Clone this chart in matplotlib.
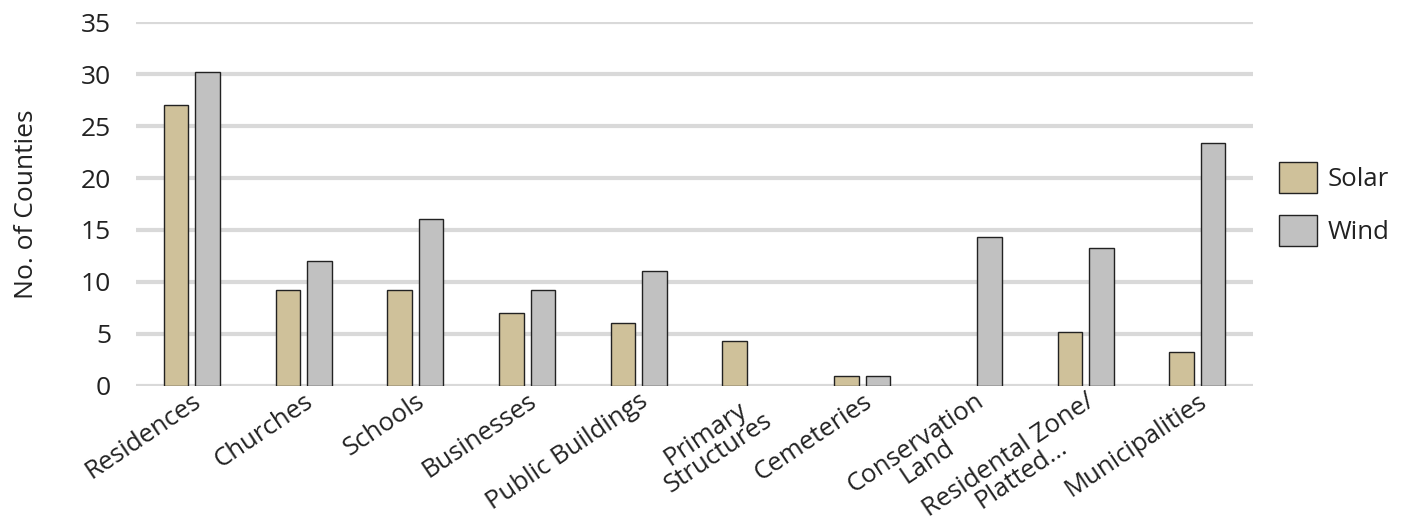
import matplotlib
matplotlib.use("Agg")
import matplotlib.pyplot as plt
import numpy as np

categories = ["Residences", "Churches", "Schools", "Businesses", "Public Buildings",
              "Primary\nStructures", "Cemeteries", "Conservation\nLand",
              "Residental Zone/\nPlatted...", "Municipalities"]
solar = [27.0, 9.2, 9.2, 7.0, 6.1, 4.3, 1.0, 0, 5.2, 3.3]
wind = [30.2, 12.0, 16.1, 9.2, 11.1, 0, 1.0, 14.3, 13.3, 23.4]

plt.rcParams['font.family'] = ['Open Sans', 'DejaVu Sans']
plt.rcParams['text.color'] = '#222222'

fig = plt.figure(figsize=(14.09, 5.27), dpi=100)
ax = fig.add_axes([0.0965, 0.2676, 0.793, 0.6906])

x = np.arange(len(categories))
w = 0.22
b1 = ax.bar(x - 0.141, solar, w, color='#cfc19a', edgecolor='#222222', linewidth=1, label='Solar', zorder=3)
b2 = ax.bar(x + 0.141, wind, w, color='#c1c1c1', edgecolor='#222222', linewidth=1, label='Wind', zorder=3)
# hide empty bars (no outline line at zero)
for p in list(b1) + list(b2):
    if p.get_height() == 0:
        p.set_visible(False)

ax.set_xlim(-0.5, len(categories) - 0.5)
ax.set_ylim(0, 35)
ax.set_yticks(range(0, 36, 5))
ax.yaxis.grid(True, color='#d9d9d9', linewidth=3, zorder=0)
ax.set_axisbelow(True)
for s in ax.spines.values():
    s.set_visible(False)
ax.tick_params(axis='both', length=0, labelsize=19, colors='#222222')
ax.tick_params(axis='y', pad=18)
ax.tick_params(axis='x', pad=2)
ax.set_xticks(x)
ax.set_xticklabels(categories, rotation=34, ha='right', rotation_mode='anchor',
                   multialignment='center', fontsize=18.5, linespacing=0.88)
ax.set_ylabel('No. of Counties', fontsize=19, labelpad=30, color='#222222')

ax.legend(loc='center left', bbox_to_anchor=(1.002, 0.5), frameon=False, fontsize=18.5,
          handlelength=1.5, handleheight=1.5, labelspacing=0.85, handletextpad=0.4)

fig.savefig('out.png', dpi=100)
